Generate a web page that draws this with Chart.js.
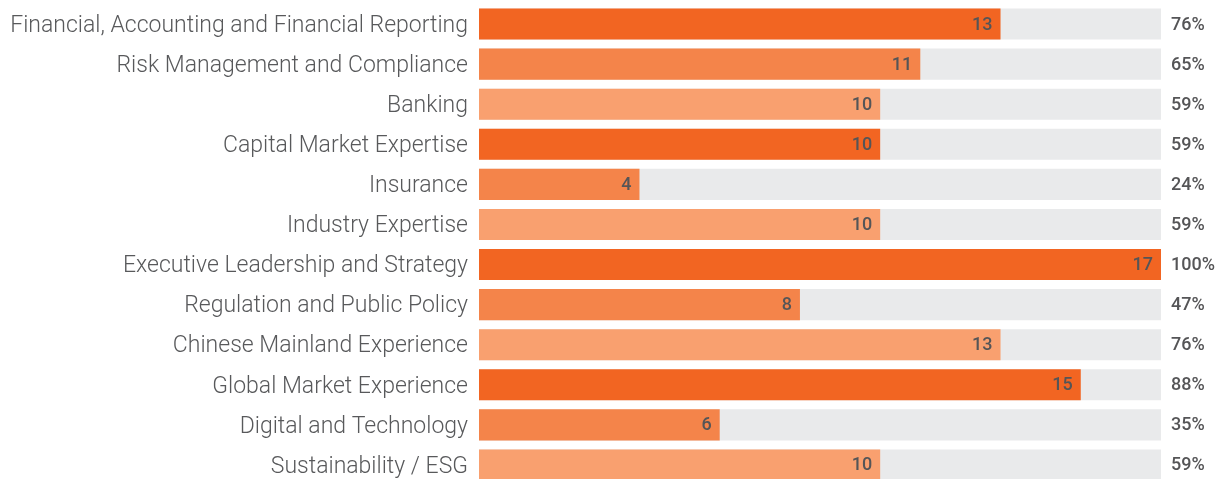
<!DOCTYPE html>
<html>
<head>
<meta charset="utf-8">
<script src="https://cdn.jsdelivr.net/npm/chart.js@4/dist/chart.umd.min.js"></script>
<style>
  html, body { margin: 0; padding: 0; background: #fff; overflow: hidden; }
  #wrap { width: 1219px; height: 489px; }
</style>
</head>
<body>
<div id="wrap"><canvas id="chart"></canvas></div>
<script>
const categories = [
  "Financial, Accounting and Financial Reporting",
  "Risk Management and Compliance",
  "Banking",
  "Capital Market Expertise",
  "Insurance",
  "Industry Expertise",
  "Executive Leadership and Strategy",
  "Regulation and Public Policy",
  "Chinese Mainland Experience",
  "Global Market Experience",
  "Digital and Technology",
  "Sustainability / ESG"
];
const directors = [13, 11, 10, 10, 4, 10, 17, 8, 13, 15, 6, 10];
const totalDirectors = 17;
const percentLabels = ["76%", "65%", "59%", "59%", "24%", "59%", "100%", "47%", "76%", "88%", "35%", "59%"];

const shades = ["#f26522", "#f4844a", "#f9a06f"];
const barColors = directors.map((v, i) => shades[i % 3]);

// etiquetas dentro de la barra y porcentaje a la derecha
const labelPlugin = {
  id: "labels",
  afterDatasetsDraw(chart) {
    const ctx = chart.ctx;
    const meta = chart.getDatasetMeta(1);
    const area = chart.chartArea;
    ctx.save();
    ctx.fillStyle = "#555557";
    ctx.textBaseline = "middle";
    ctx.font = "500 18px Roboto, 'Open Sans', sans-serif";
    meta.data.forEach((bar, i) => {
      ctx.textAlign = "right";
      ctx.fillText(String(directors[i]), bar.x - 8, bar.y + 1);
      ctx.textAlign = "left";
      ctx.fillText(percentLabels[i], area.right + 10, bar.y + 1);
    });
    ctx.restore();
  }
};

new Chart(document.getElementById("chart"), {
  type: "bar",
  data: {
    labels: categories,
    datasets: [
      {
        data: categories.map(() => totalDirectors),
        backgroundColor: "#e9eaeb",
        grouped: false,
        order: 2,
        categoryPercentage: 1,
        barPercentage: 0.775
      },
      {
        data: directors,
        backgroundColor: barColors,
        grouped: false,
        order: 1,
        categoryPercentage: 1,
        barPercentage: 0.775
      }
    ]
  },
  options: {
    indexAxis: "y",
    responsive: true,
    maintainAspectRatio: false,
    animation: false,
    layout: { padding: { left: 0, right: 58, top: 4, bottom: 4 } },
    plugins: { legend: { display: false }, tooltip: { enabled: false } },
    scales: {
      x: { display: false, min: 0, max: totalDirectors },
      y: {
        grid: { display: false, drawTicks: false },
        border: { display: false },
        ticks: {
          color: "#58595b",
          padding: 11,
          labelOffset: 2,
          font: { family: "Roboto, 'Open Sans', sans-serif", size: 23, weight: 300 }
        },
        afterFit(scale) {
          scale.width = 479;
          scale.paddingTop = 0;
          scale.paddingBottom = 0;
        }
      }
    }
  },
  plugins: [labelPlugin]
});
</script>
</body>
</html>
